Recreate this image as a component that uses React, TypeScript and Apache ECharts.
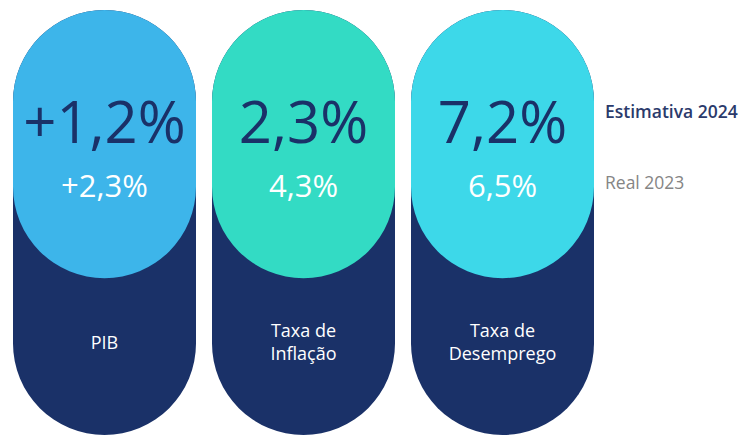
import React, { useEffect, useRef } from "react";
import * as echarts from "echarts";

const categories = ["PIB", "Taxa de\nInflação", "Taxa de\nDesemprego"];
const estimate2024 = ["+1,2%", "2,3%", "7,2%"];
const real2023 = ["+2,3%", "4,3%", "6,5%"];
const legendNames = ["Estimativa 2024", "Real 2023"];
const pillColors = ["#3DB5EA", "#33DBC4", "#3DD8E9"];

const NAVY = "#1A3168";
const FULL = 1;
const BASE = 0.369;
const TOP = FULL - BASE;
const FONT = "'Open Sans', 'Noto Sans', sans-serif";

export default function App() {
  const ref = useRef<HTMLDivElement>(null);
  useEffect(() => {
    document.body.style.margin = "0";
    const chart = echarts.init(ref.current!, null, { renderer: "svg" });
    chart.setOption({
      animation: false,
      backgroundColor: "#ffffff",
      grid: { left: 5, width: 597, top: 10, bottom: 2 },
      xAxis: { type: "category", data: categories, show: false },
      yAxis: { type: "value", min: 0, max: FULL, show: false },
      series: [
        {
          type: "bar",
          name: "fundo",
          data: categories.map(() => FULL),
          barWidth: 183,
          barGap: "-100%",
          itemStyle: { color: NAVY, borderRadius: 91.5 },
          z: 1,
        },
        {
          type: "bar",
          name: "base",
          stack: "s",
          data: categories.map(() => BASE),
          barWidth: 183,
          barGap: "-100%",
          itemStyle: { color: "transparent" },
          label: {
            show: true,
            position: "inside",
            offset: [0, -15],
            formatter: (p: any) => categories[p.dataIndex],
            color: "#ffffff",
            fontFamily: FONT,
            fontSize: 18,
            fontWeight: 500,
            lineHeight: 23,
            align: "center",
          },
          z: 2,
        },
        {
          type: "bar",
          name: legendNames[0],
          stack: "s",
          data: categories.map((_, i) => ({
            value: TOP,
            itemStyle: { color: pillColors[i] },
          })),
          barWidth: 183,
          barGap: "-100%",
          itemStyle: { borderRadius: 91.5 },
          label: {
            show: true,
            position: "inside",
            offset: [0, 1],
            formatter: (p: any) =>
              `{a|${estimate2024[p.dataIndex]}}\n{b|${real2023[p.dataIndex]}}`,
            rich: {
              a: {
                fontFamily: FONT,
                fontSize: 58,
                fontWeight: 380,
                color: NAVY,
                lineHeight: 80,
                align: "center",
              },
              b: {
                fontFamily: FONT,
                fontSize: 31,
                fontWeight: 380,
                color: "#ffffff",
                lineHeight: 50,
                align: "center",
              },
            },
          },
          z: 3,
        },
      ],
      graphic: [
        {
          type: "text",
          left: 605,
          top: 102,
          style: {
            text: legendNames[0],
            fill: "#2B3A6B",
            fontFamily: FONT,
            fontSize: 17.5,
            fontWeight: 550,
          },
        },
        {
          type: "text",
          left: 605,
          top: 173,
          style: {
            text: legendNames[1],
            fill: "#858585",
            fontFamily: FONT,
            fontSize: 17.5,
          },
        },
      ],
    });
    return () => chart.dispose();
  }, []);
  return (
    <div
      ref={ref}
      style={{ position: "absolute", left: 0, top: 0, width: 746, height: 437 }}
    />
  );
}
